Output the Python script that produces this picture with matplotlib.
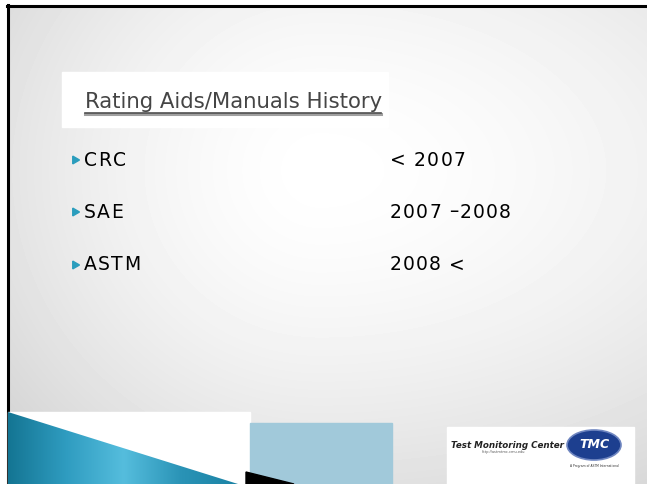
import numpy as np
import matplotlib
matplotlib.use('Agg')
import matplotlib.pyplot as plt
from matplotlib.patches import Rectangle, Polygon, Ellipse, RegularPolygon
from matplotlib.colors import LinearSegmentedColormap

# Conteúdo do slide
titulo = 'Rating Aids/Manuals History'
organismos = ['CRC', 'SAE', 'ASTM']
periodos = ['< 2007', '2007 \u20132008', '2008 <']

W, H = 647, 484
fig = plt.figure(figsize=(6.47, 4.84), dpi=100)
ax = fig.add_axes([0, 0, 1, 1])
ax.set_xlim(0, W)
ax.set_ylim(H, 0)
ax.axis('off')
renderer = fig.canvas.get_renderer()


# Escreve um texto letra por letra, com espaçamento extra (em pixels)
def texto_espacado(x, y, s, extra=1.0, **kw):
    for ch in s:
        t = ax.text(x, y, ch, **kw)
        largura = t.get_window_extent(renderer).width
        if ch == ' ':
            largura = t.get_fontsize() * 100 / 72 * 0.318
        x += largura + extra


# Fundo com degradê (branco no centro, cinza mais forte à esquerda)
xx, yy = np.meshgrid(np.arange(W), np.arange(H))
rx = np.where(xx < 320, 400.0, 650.0)
d = np.sqrt(((xx - 320) / rx) ** 2 + ((yy - 170) / 380.0) ** 2)
t = np.clip(d, 0, 1.3)
fundo = 1 - 0.16 * t ** 1.6
ax.imshow(fundo, cmap='gray', vmin=0, vmax=1, extent=[0, W, H, 0], zorder=0)
ax.add_patch(Rectangle((0, 0), 7, H, color='white', zorder=1))
ax.add_patch(Rectangle((0, 0), W, 5, color='white', zorder=1))
ax.plot([7.5, 7.5], [5, H], color='black', lw=2.2, zorder=2)
ax.plot([7, W], [6, 6], color='black', lw=2.2, zorder=2)

# Título
ax.add_patch(Rectangle((62, 72), 326, 55, color='white', zorder=2))
ax.text(85, 108, titulo, fontsize=15.3, color='#454545', ha='left',
        va='baseline', zorder=3)
ax.plot([85, 381], [114, 114], color='#a0a0a0', lw=2.2, zorder=3)
ax.plot([85, 381], [113, 113], color='#505050', lw=1.2, zorder=3)

# Itens
linhas_y = [160, 212, 265]
for nome, periodo, y in zip(organismos, periodos, linhas_y):
    ax.add_patch(RegularPolygon((75, y), 3, radius=4.5, orientation=-np.pi / 2,
                                color='#2a9dbd', zorder=3))
    texto_espacado(84, y, nome, extra=1.2, fontsize=13.5, color='black',
                   va='center', zorder=3)
    texto_espacado(390, y, periodo, extra=1.2, fontsize=13.5, color='black',
                   va='center', zorder=3)

# Faixa inferior esquerda: retângulo branco com triângulo azul
ax.add_patch(Rectangle((8, 412), 242, 72, color='white', zorder=2))
azul = LinearSegmentedColormap.from_list('azul', ['#147593', '#2f9cc0', '#55bddd', '#2a93b6', '#1a82a4'])
grad = np.tile(np.linspace(0, 1, 256), (10, 1))
im = ax.imshow(grad, cmap=azul, extent=[8, 240, 484, 412], aspect='auto', zorder=3)
tri = Polygon([(8, 412), (238, 484), (8, 484)], closed=True, transform=ax.transData)
im.set_clip_path(tri)
ax.set_xlim(0, W)
ax.set_ylim(H, 0)

# Retângulo azul claro e cunha preta
ax.add_patch(Rectangle((250, 423), 142, 61, color='#a1c9da', zorder=2))
ax.add_patch(Polygon([(246, 472), (294, 484), (246, 484)], closed=True,
                     color='black', zorder=4))

# Logotipo
ax.add_patch(Rectangle((447, 427), 187, 57, color='white', zorder=2))
ax.text(451, 445, 'Test Monitoring Center', fontsize=6.3, fontweight='bold',
        fontstyle='italic', color='#222222', va='center', zorder=3)
ax.text(482, 452, 'http://astmtmc.cmu.edu', fontsize=2.5, color='#555555',
        va='center', zorder=3)
ax.add_patch(Ellipse((594, 445), 54, 30, facecolor='#1d3f8f',
                     edgecolor='#6f86c0', lw=1.2, zorder=3))
ax.text(594, 445, 'TMC', fontsize=9, fontweight='bold', fontstyle='italic',
        color='white', ha='center', va='center', zorder=4)
ax.text(594, 466, 'A Program of ASTM International', fontsize=2.2,
        color='#333333', ha='center', va='center', zorder=3)

fig.savefig('out.png', dpi=100)
